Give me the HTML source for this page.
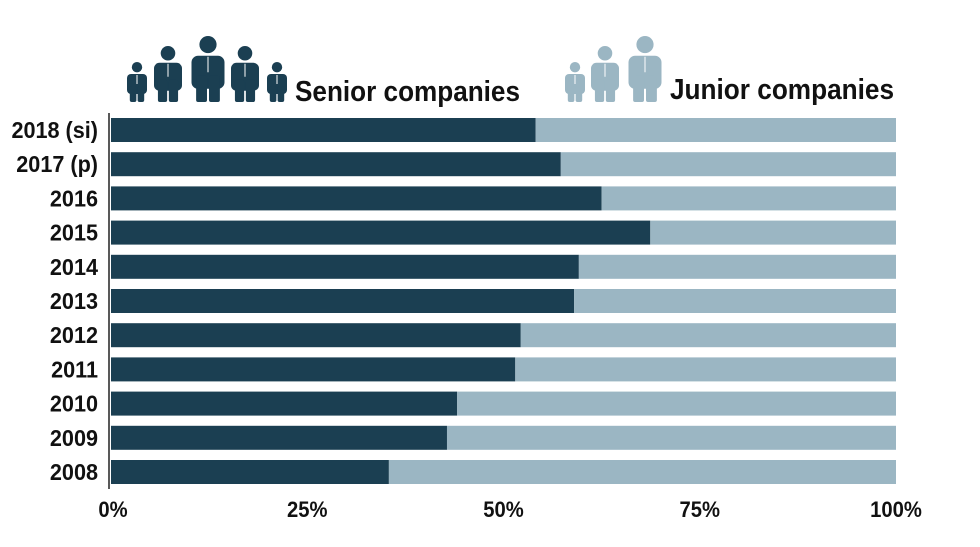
<!DOCTYPE html>
<html><head><meta charset="utf-8"><style>
body{margin:0;background:#fff;}
svg{display:block;}
text{font-family:"Liberation Sans Narrow","Liberation Sans",sans-serif;font-weight:bold;fill:#111;}
</style></head><body>
<svg id="chart" width="980" height="547"></svg>
<script>
const categories=["2018 (si)","2017 (p)","2016","2015","2014","2013","2012","2011","2010","2009","2008"];
const seniorValues=[54.1,57.3,62.5,68.7,59.6,59.0,52.2,51.5,44.1,42.8,35.4];
const tickValues=[0,25,50,75,100];
const tickLabels=["0%","25%","50%","75%","100%"];
const DARK="#1b3f52",LIGHT="#9bb6c3";
const NS="http://www.w3.org/2000/svg";
const svg=document.getElementById('chart');
const x0=111,x1=896,yTop=118,pitch=34.2,barH=24;
function xs(v){return x0+(x1-x0)*v/100;}
function yb(i){return yTop+i*pitch;}
function mk(tag,attrs,parent){const e=document.createElementNS(NS,tag);for(const k in attrs)e.setAttribute(k,attrs[k]);(parent||svg).appendChild(e);return e;}
function squeeze(t,f){const L=t.getComputedTextLength();t.setAttribute('textLength',L*f);t.setAttribute('lengthAdjust','spacingAndGlyphs');}
categories.forEach((c,i)=>{
  const g=mk('g',{});
  
  
  const s=mk('rect',{x:xs(0),y:yb(i),width:xs(seniorValues[i])-xs(0),height:barH,fill:DARK},g);
  
  
  const j=mk('rect',{x:xs(seniorValues[i]),y:yb(i),width:xs(100)-xs(seniorValues[i]),height:barH,fill:LIGHT},g);
  
  
  const t=mk('text',{x:98,y:yb(i)+barH/2+8,'text-anchor':'end','font-size':23},g);
  t.textContent=c;
  
  
  squeeze(t,0.94);
});
const ax=mk('line',{x1:109,y1:113,x2:109,y2:489,stroke:'#222','stroke-width':1.5});


tickValues.forEach((v,i)=>{
  const t=mk('text',{x:xs(v)+(i==0?2:0),y:517,'text-anchor':'middle','font-size':22});
  t.textContent=tickLabels[i];
  
  
  squeeze(t,0.92);
});
function person(cx,h,color,name){
  const foot=102,top=foot-h,w=h*0.5,r=h*0.13;
  const g=mk('g',{fill:color});
  
  
  mk('circle',{cx:cx,cy:top+r,r:r},g);
  const bt=top+2*r+h*0.04;
  mk('rect',{x:cx-w/2,y:bt,width:w,height:h*0.5,rx:w*0.2},g);
  mk('rect',{x:cx-w*0.36,y:bt+h*0.3,width:w*0.33,height:foot-bt-h*0.3,rx:2},g);
  mk('rect',{x:cx+w*0.03,y:bt+h*0.3,width:w*0.33,height:foot-bt-h*0.3,rx:2},g);
  mk('line',{x1:cx,y1:bt+1,x2:cx,y2:bt+h*0.25,stroke:'#fff','stroke-width':1},g);
}
[[137,40],[168,56],[208,66],[245,56],[277,40]].forEach(p=>person(p[0],p[1],DARK,'senior-icon'));
[[575,40],[605,56],[645,66]].forEach(p=>person(p[0],p[1],LIGHT,'junior-icon'));
const l1=mk('text',{x:295,y:101,'font-size':29,textLength:225,lengthAdjust:'spacingAndGlyphs'});
l1.textContent="Senior companies";


const l2=mk('text',{x:670,y:99,'font-size':29,textLength:224,lengthAdjust:'spacingAndGlyphs'});
l2.textContent="Junior companies";


</script>
</body></html>
